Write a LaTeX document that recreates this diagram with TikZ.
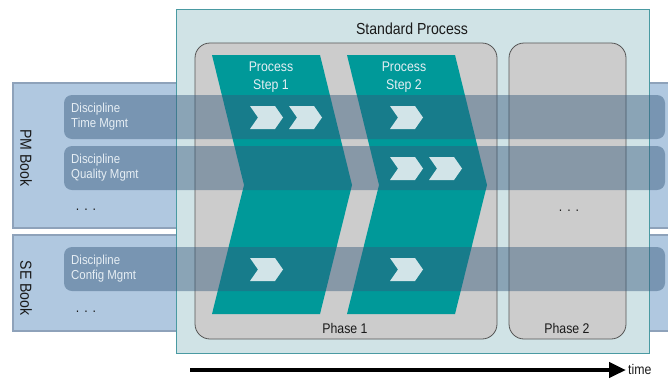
\documentclass[tikz,border=0pt]{standalone}
\usepackage{fontspec}
\setmainfont{Liberation Sans}[FakeStretch=0.88]
\usetikzlibrary{arrows.meta}

\definecolor{bookblue}{HTML}{B0C8E0}
\definecolor{bookline}{HTML}{8EA2BA}
\definecolor{procfill}{HTML}{D0E3E6}
\definecolor{procline}{HTML}{4A9AA2}
\definecolor{phasegray}{HTML}{CCCCCC}
\definecolor{phaseline}{HTML}{555555}
\definecolor{stepteal}{HTML}{009999}
\definecolor{bandblue}{HTML}{35597C}
\definecolor{chevlight}{HTML}{D2E4E8}
\definecolor{paletext}{HTML}{E6EEF4}
\definecolor{darktext}{HTML}{1A1A1A}

% small arrow-like marker, #1/#2 is its top left corner
\newcommand{\chevmark}[2]{\fill[chevlight] (#1,#2) -- ++(25,0) -- ++(8,11.5) -- ++(-8,11.5) -- ++(-25,0) -- ++(8,-11.5) -- cycle;}

\begin{document}
\begin{tikzpicture}[x=1pt, y=-1pt,
  book/.style={fill=bookblue, draw=bookline, line width=1.2pt},
  phase/.style={fill=phasegray, draw=phaseline, line width=0.8pt, rounded corners=15pt},
  band/.style={fill=bandblue, fill opacity=0.45, rounded corners=8pt},
  bandtext/.style={text=paletext, font=\fontsize{13}{15}\selectfont, align=left, anchor=west, inner sep=0pt},
  steptext/.style={text=paletext, font=\fontsize{14}{17.5}\selectfont, align=center, inner sep=0pt},
  plaintext/.style={text=darktext, font=\fontsize{14}{16}\selectfont, inner sep=0pt}]
  \useasboundingbox (0,0) rectangle (668,378);

  % books in the back
  \draw[book] (13,83) rectangle (672,228);
  \draw[book] (13,235) rectangle (672,331);
  \node[plaintext, rotate=-90, font=\fontsize{16}{18}\selectfont] (pmbook) at (26,158) {PM Book};
  \node[plaintext, rotate=-90, font=\fontsize{16}{18}\selectfont] (sebook) at (26,288) {SE Book};
  \node[plaintext] (pmdots) at (86,210) {.\hspace{5pt}.\hspace{5pt}.};
  \node[plaintext] (sedots) at (86,312) {.\hspace{5pt}.\hspace{5pt}.};

  % the process with its phases
  \draw[fill=procfill, draw=procline, line width=0.8pt] (176,9) rectangle (649,353);
  \node[plaintext, font=\fontsize{16}{18}\selectfont] (stdproc) at (412,29) {Standard Process};
  \draw[phase] (195,43) rectangle (497,339);
  \draw[phase] (509,43) rectangle (626,339);
  \node[plaintext] (phase1) at (345,328) {Phase 1};
  \node[plaintext] (phase2) at (567,328) {Phase 2};
  \node[plaintext] (phdots) at (569,211) {.\hspace{5pt}.\hspace{5pt}.};

  % process steps
  \fill[stepteal] (212,55) -- (320,55) -- (352,185) -- (320,314) -- (212,314) -- (244,185) -- cycle;
  \fill[stepteal] (347,55) -- (455,55) -- (487,185) -- (455,314) -- (347,314) -- (379,185) -- cycle;
  \node[steptext] (step1) at (271,77) {Process\\Step 1};
  \node[steptext] (step2) at (404,77) {Process\\Step 2};

  % disciplines across the steps
  \fill[band] (64,95) rectangle (665,139);
  \fill[band] (64,146) rectangle (665,190);
  \fill[band] (64,247) rectangle (665,291);
  \node[bandtext] (timemgmt) at (71,117) {Discipline\\Time Mgmt};
  \node[bandtext] (qualmgmt) at (71,168) {Discipline\\Quality Mgmt};
  \node[bandtext] (confmgmt) at (71,269) {Discipline\\Config Mgmt};

  \chevmark{250}{106} \chevmark{289}{106} \chevmark{390}{106}
  \chevmark{390}{157} \chevmark{429}{157}
  \chevmark{250}{258} \chevmark{390}{258}

  % time axis
  \coordinate (tstart) at (190,370);
  \coordinate (tend) at (626,370);
  \draw[line width=4.5pt, -{Triangle[length=17pt,width=15pt]}] (tstart) -- (tend);
  \node[plaintext, anchor=base west, font=\fontsize{14}{16}\selectfont] (time) at (628,374.5) {time};
\end{tikzpicture}
\end{document}
